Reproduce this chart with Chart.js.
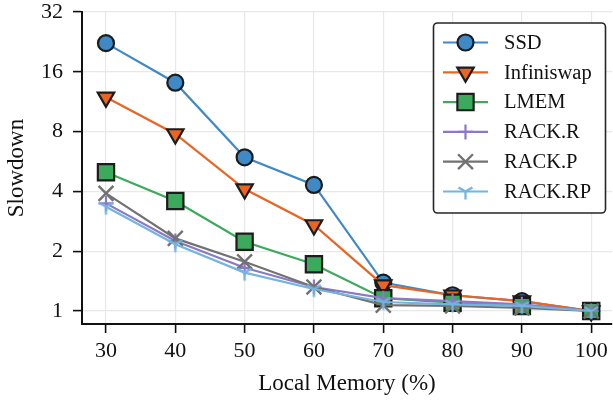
<!DOCTYPE html>
<html>
<head>
<meta charset="utf-8">
<script src="https://cdn.jsdelivr.net/npm/chart.js@4.4.1/dist/chart.umd.min.js"></script>
<style>
html,body{margin:0;padding:0;background:#fff;}
canvas{display:block;}
</style>
</head>
<body>
<canvas id="c" width="613" height="400"></canvas>
<script>
const localMemory = [30, 40, 50, 60, 70, 80, 90, 100];
const ssd        = [22.3, 14.1, 5.94, 4.31, 1.39, 1.20, 1.12, 1.0];
const infiniswap = [11.9, 7.78, 4.11, 2.71, 1.35, 1.20, 1.12, 1.0];
const lmem       = [4.99, 3.58, 2.23, 1.72, 1.16, 1.10, 1.06, 1.0];
const rackR      = [3.48, 2.25, 1.65, 1.32, 1.16, 1.12, 1.08, 1.0];
const rackP      = [3.91, 2.32, 1.77, 1.32, 1.07, 1.06, 1.035, 1.0];
const rackRP     = [3.35, 2.17, 1.56, 1.29, 1.11, 1.08, 1.06, 1.0];
const yTicks = [1, 2, 4, 8, 16, 32];
const xTicks = [30, 40, 50, 60, 70, 80, 90, 100];

const FONT = "'Liberation Serif', 'Times New Roman', serif";

function triDown(color, r, lw) {
  const s = Math.ceil(2 * r + lw + 2);
  const cv = document.createElement('canvas');
  cv.width = s; cv.height = s;
  const g = cv.getContext('2d');
  const c = s / 2;
  g.strokeStyle = color; g.lineWidth = lw; g.lineCap = 'butt';
  g.beginPath();
  g.moveTo(c, c); g.lineTo(c, c + r);
  g.moveTo(c, c); g.lineTo(c - r * 0.866, c - r * 0.5);
  g.moveTo(c, c); g.lineTo(c + r * 0.866, c - r * 0.5);
  g.stroke();
  return cv;
}

const C = {
  ssd: '#3f8ac6', inf: '#ec6422', lmem: '#3caa5c',
  r: '#8b78c6', p: '#727272', rp: '#74b4e0'
};
const edge = '#1c1c1c';
const triImg = triDown(C.rp, 8, 2.3);

function mk(label, vals, color, style, radius, extra) {
  return Object.assign({
    label: label,
    data: localMemory.map((x, i) => ({x: x, y: vals[i]})),
    borderColor: color,
    backgroundColor: color,
    borderWidth: 2.2,
    tension: 0,
    pointStyle: style,
    pointRadius: radius,
    pointHoverRadius: radius,
    pointBackgroundColor: color,
    pointBorderColor: edge,
    pointBorderWidth: 2.2,
  }, extra || {});
}

const datasets = [
  mk('SSD', ssd, C.ssd, 'circle', 8, {order: 6}),
  mk('Infiniswap', infiniswap, C.inf, 'triangle', 9.5, {order: 5, pointRotation: 180}),
  mk('LMEM', lmem, C.lmem, 'rect', 11.5, {order: 4}),
  mk('RACK.R', rackR, C.r, 'cross', 7.5, {order: 3, pointBorderColor: C.r, pointBorderWidth: 2.2}),
  mk('RACK.P', rackP, C.p, 'crossRot', 10.5, {order: 2, pointBorderColor: C.p, pointBorderWidth: 2.4}),
  mk('RACK.RP', rackRP, C.rp, triImg, 8, {order: 1}),
];

const legendPlugin = {
  id: 'boxLegend',
  afterDraw(chart) {
    const ctx = chart.ctx;
    const bx = 433.5, by = 23, bw = 172, bh = 190, rad = 4;
    ctx.save();
    ctx.beginPath();
    ctx.moveTo(bx + rad, by);
    ctx.lineTo(bx + bw - rad, by);
    ctx.arcTo(bx + bw, by, bx + bw, by + rad, rad);
    ctx.lineTo(bx + bw, by + bh - rad);
    ctx.arcTo(bx + bw, by + bh, bx + bw - rad, by + bh, rad);
    ctx.lineTo(bx + rad, by + bh);
    ctx.arcTo(bx, by + bh, bx, by + bh - rad, rad);
    ctx.lineTo(bx, by + rad);
    ctx.arcTo(bx, by, bx + rad, by, rad);
    ctx.closePath();
    ctx.fillStyle = '#ffffff';
    ctx.fill();
    ctx.lineWidth = 1.6;
    ctx.strokeStyle = '#262626';
    ctx.stroke();
    chart.data.datasets.forEach((ds, i) => {
      const y = 42.5 + i * 29.8;
      ctx.strokeStyle = ds.borderColor;
      ctx.lineWidth = 2.2;
      ctx.beginPath();
      ctx.moveTo(443, y); ctx.lineTo(488, y);
      ctx.stroke();
      ctx.fillStyle = ds.pointBackgroundColor;
      ctx.strokeStyle = ds.pointBorderColor;
      ctx.lineWidth = ds.pointBorderWidth;
      Chart.helpers.drawPoint(ctx, {
        pointStyle: ds.pointStyle,
        radius: ds.pointRadius,
        rotation: ds.pointRotation || 0,
        borderWidth: ds.pointBorderWidth
      }, 465.5, y);
      ctx.fillStyle = '#111';
      ctx.font = '20.5px ' + FONT;
      ctx.textAlign = 'left';
      ctx.textBaseline = 'middle';
      ctx.fillText(ds.label, 504, y + 1);
    });
    ctx.restore();
  }
};

new Chart(document.getElementById('c'), {
  type: 'line',
  data: { datasets: datasets },
  options: {
    responsive: false,
    animation: false,
    devicePixelRatio: 1,
    layout: { autoPadding: false, padding: { top: 12, right: 1, left: 0, bottom: 0 } },
    plugins: { legend: { display: false }, tooltip: { enabled: false } },
    scales: {
      x: {
        type: 'linear',
        min: 26.54,
        max: 103.0,
        afterBuildTicks: (s) => { s.ticks = xTicks.map(v => ({value: v})); },
        afterFit: (s) => { s.height = 76; s.paddingLeft = 0; s.paddingRight = 0; },
        grid: { color: '#e8e8e8', lineWidth: 1.2, drawTicks: true, tickLength: 9, tickColor: '#111', tickWidth: 1.6 },
        border: { color: '#111', width: 2 },
        ticks: { color: '#111', padding: 5, font: { family: FONT, size: 22 }, maxRotation: 0, autoSkip: false,
                 callback: (v) => String(v) },
        title: { display: true, text: 'Local Memory (%)', color: '#111', font: { family: FONT, size: 23 }, padding: {top: 0, bottom: 2} }
      },
      y: {
        type: 'logarithmic',
        min: 0.86,
        max: 32,
        afterBuildTicks: (s) => { s.ticks = yTicks.map(v => ({value: v})); },
        afterFit: (s) => { s.width = 82; s.paddingTop = 0; s.paddingBottom = 0; },
        grid: { color: '#e8e8e8', lineWidth: 1.2, drawTicks: true, tickLength: 9, tickColor: '#111', tickWidth: 1.6 },
        border: { color: '#111', width: 2 },
        ticks: { color: '#111', padding: 10, font: { family: FONT, size: 22 }, autoSkip: false,
                 callback: (v) => String(v) },
        title: { display: true, text: 'Slowdown', color: '#111', font: { family: FONT, size: 23 }, padding: {top: 3, bottom: 3} }
      }
    }
  },
  plugins: [legendPlugin]
});
</script>
</body>
</html>
